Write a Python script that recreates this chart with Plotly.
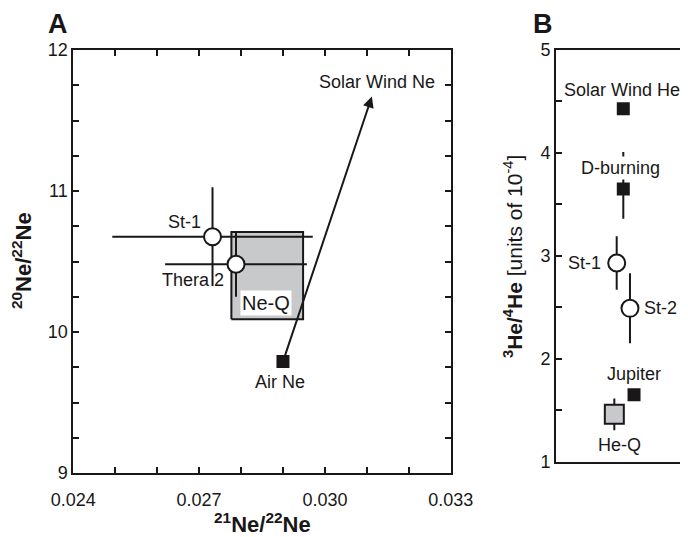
import plotly.graph_objects as go

# ---------------- Panel A data ----------------
a_names = ["St-1", "Thera 2"]
a_x = [0.02732, 0.02788]          # 21Ne/22Ne
a_y = [10.676, 10.48]             # 20Ne/22Ne
a_x_err = [0.00239, 0.00169]
a_y_err = [0.35, 0.23]

air_ne_x = [0.0290]
air_ne_y = [9.79]
solar_wind_ne_x = 0.03112
solar_wind_ne_y = 11.67

neq_x = [0.02777, 0.02948]        # Ne-Q box range
neq_y = [10.09, 10.71]

a_xticks = [0.024, 0.027, 0.030, 0.033]
a_yticks = [9, 10, 11, 12]

# ---------------- Panel B data ----------------
b_ref_names = ["Solar Wind He", "D-burning", "Jupiter"]
b_ref_pos = [0.4985, 0.4985, 0.578]
b_ref_y = [4.43, 3.65, 1.65]      # 3He/4He (1e-4)
b_ref_err_plus = [0, 0.36, 0]
b_ref_err_minus = [0, 0.29, 0]

b_st_names = ["St-1", "St-2"]
b_st_pos = [0.4496, 0.548]
b_st_y = [2.93, 2.49]
b_st_err = [0.26, 0.34]

heq_pos = [0.432]
heq_y = [1.46]
heq_err = [0.155]

b_yticks = [1, 2, 3, 4, 5]

FONT = "Liberation Sans, Arial, Helvetica, sans-serif"
BLACK = "#1a1718"
GREY = "#c8c9cb"

W, H, OFF = 688, 537, 8   # page body margin offset


def px(X):
    return (X - OFF) / W


def py(Y):
    return 1 - (Y - OFF) / H


fig = go.Figure()

# Ne-Q box
fig.add_trace(go.Scatter(
    x=[neq_x[0], neq_x[1], neq_x[1], neq_x[0], neq_x[0]],
    y=[neq_y[0], neq_y[0], neq_y[1], neq_y[1], neq_y[0]],
    mode="lines", fill="toself", fillcolor=GREY,
    line=dict(color=BLACK, width=2), xaxis="x", yaxis="y",
    hoverinfo="skip", showlegend=False))

# Air Ne
fig.add_trace(go.Scatter(
    x=air_ne_x, y=air_ne_y, mode="markers",
    marker=dict(symbol="square", size=13, color=BLACK),
    xaxis="x", yaxis="y", showlegend=False))

# samples A
fig.add_trace(go.Scatter(
    x=a_x, y=a_y, mode="markers",
    error_x=dict(type="data", array=a_x_err, color=BLACK, thickness=2, width=0),
    error_y=dict(type="data", array=a_y_err, color=BLACK, thickness=2, width=0),
    marker=dict(symbol="circle", size=17, color="white",
                line=dict(color=BLACK, width=2)),
    xaxis="x", yaxis="y", showlegend=False))

# Panel B: He-Q
fig.add_trace(go.Scatter(
    x=heq_pos, y=heq_y, mode="markers",
    error_y=dict(type="data", array=heq_err, color=BLACK, thickness=2, width=0),
    marker=dict(symbol="square", size=19, color=GREY,
                line=dict(color=BLACK, width=2)),
    xaxis="x2", yaxis="y2", showlegend=False))

# Panel B: reference squares
fig.add_trace(go.Scatter(
    x=b_ref_pos, y=b_ref_y, mode="markers",
    error_y=dict(type="data", array=b_ref_err_plus, arrayminus=b_ref_err_minus,
                 color=BLACK, thickness=2, width=0),
    marker=dict(symbol="square", size=13, color=BLACK),
    xaxis="x2", yaxis="y2", showlegend=False))

# Panel B: samples
fig.add_trace(go.Scatter(
    x=b_st_pos, y=b_st_y, mode="markers",
    error_y=dict(type="data", array=b_st_err, color=BLACK, thickness=2, width=0),
    marker=dict(symbol="circle", size=17, color="white",
                line=dict(color=BLACK, width=2)),
    xaxis="x2", yaxis="y2", showlegend=False))

ann = []
lab = dict(font=dict(family=FONT, size=18, color=BLACK), showarrow=False,
           yanchor="middle")

# arrow Air Ne -> Solar Wind Ne
ann.append(dict(x=solar_wind_ne_x, y=solar_wind_ne_y, ax=air_ne_x[0], ay=air_ne_y[0],
                xref="x", yref="y", axref="x", ayref="y", text="",
                showarrow=True, arrowhead=2, arrowsize=1.1, arrowwidth=2,
                arrowcolor=BLACK, standoff=0, startstandoff=0))
ann.append(dict(x=0.03124, y=11.775, xref="x", yref="y", text="Solar Wind Ne",
                xanchor="center", **lab))
ann.append(dict(x=0.02892, y=9.643, xref="x", yref="y", text="Air Ne",
                xanchor="center", **lab))
ann.append(dict(x=0.027095, y=10.782, xref="x", yref="y", text=a_names[0],
                xanchor="right", **lab))
ann.append(dict(x=0.02685, y=10.369, xref="x", yref="y", text=a_names[1],
                xanchor="center", **lab))
ann.append(dict(x=0.028588, y=10.209, xref="x", yref="y", text="Ne-Q",
                bgcolor="white", borderpad=1, xanchor="center", yanchor="middle",
                font=dict(family=FONT, size=20, color=BLACK), showarrow=False))

# Panel B labels
ann.append(dict(x=0.489, y=4.61, xref="x2", yref="y2", text=b_ref_names[0],
                xanchor="center", **lab))
ann.append(dict(x=0.48, y=3.85, xref="x2", yref="y2", text=b_ref_names[1],
                bgcolor="white", xanchor="center", **lab))
ann.append(dict(x=0.578, y=1.85, xref="x2", yref="y2", text=b_ref_names[2],
                xanchor="center", **lab))
ann.append(dict(x=0.350, y=b_st_y[0], xref="x2", yref="y2", text=b_st_names[0],
                xanchor="right", **lab))
ann.append(dict(x=0.635, y=b_st_y[1], xref="x2", yref="y2", text=b_st_names[1],
                xanchor="left", **lab))
ann.append(dict(x=0.467, y=1.16, xref="x2", yref="y2", text="He-Q",
                xanchor="center", **lab))

# axis titles & panel letters
cm = dict(xref="paper", yref="paper", xanchor="center", yanchor="middle",
          showarrow=False)
ann.append(dict(x=px(22), y=py(261),
                text="<b><sup>20</sup>Ne/<sup>22</sup>Ne</b>", textangle=-90,
                font=dict(family=FONT, size=22, color=BLACK), **cm))
ann.append(dict(x=px(262), y=py(523),
                text="<b><sup>21</sup>Ne/<sup>22</sup>Ne</b>",
                font=dict(family=FONT, size=22, color=BLACK), **cm))
ann.append(dict(x=px(513), y=py(257),
                text="<b><sup>3</sup>He/<sup>4</sup>He</b> [units of 10<sup>-4</sup>]",
                textangle=-90,
                font=dict(family=FONT, size=21, color=BLACK), **cm))
ann.append(dict(x=px(57.5), y=py(24), text="<b>A</b>",
                font=dict(family=FONT, size=27, color=BLACK), **cm))
ann.append(dict(x=px(542.5), y=py(24), text="<b>B</b>",
                font=dict(family=FONT, size=27, color=BLACK), **cm))

tickfont = dict(family=FONT, size=18, color=BLACK)
axbase = dict(showline=True, linecolor=BLACK, linewidth=2, ticks="inside",
              ticklen=6, tickwidth=2, tickcolor=BLACK, showgrid=False,
              zeroline=False, tickfont=tickfont, automargin=False)

fig.update_layout(
    width=W, height=H, autosize=False,
    margin=dict(l=0, r=0, t=0, b=0, autoexpand=False),
    paper_bgcolor="white", plot_bgcolor="white",
    showlegend=False,
    annotations=ann,
    xaxis=dict(**axbase, domain=[px(73.3), px(450.7)], anchor="y",
               range=[0.024, 0.033], tickmode="array", tickvals=a_xticks,
               ticktext=[f"{v:.3f}" for v in a_xticks], mirror="ticks",
               ticklabelstandoff=9,
               minor=dict(dtick=0.001, tick0=0.024, ticks="inside", ticklen=6,
                          tickwidth=2, tickcolor=BLACK)),
    yaxis=dict(**axbase, domain=[py(473), py(50)], anchor="x",
               range=[9, 12], tickmode="array", tickvals=a_yticks,
               mirror="ticks",
               minor=dict(dtick=0.25, tick0=9, ticks="inside", ticklen=6,
                          tickwidth=2, tickcolor=BLACK)),
    xaxis2=dict(showline=True, linecolor=BLACK, linewidth=2, mirror=True,
                ticks="", showticklabels=False, showgrid=False, zeroline=False,
                automargin=False,
                domain=[px(556), px(691)], anchor="y2", range=[0, 1]),
    yaxis2=dict(**axbase, domain=[py(461.7), py(50)], anchor="x2",
                range=[1, 5], tickmode="array", tickvals=b_yticks,
                mirror="ticks",
                minor=dict(dtick=0.5, tick0=1, ticks="inside", ticklen=6,
                           tickwidth=2, tickcolor=BLACK)),
)

fig.write_html("out.html")
